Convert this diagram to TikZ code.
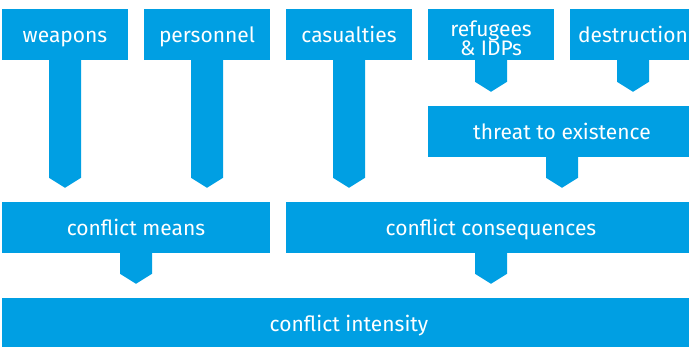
\documentclass[tikz,border=0pt]{standalone}
\usepackage{fontspec}
\setmainfont{Fira Sans}
\usetikzlibrary{calc}
\definecolor{fg}{HTML}{009FE3}
\tikzset{
  box/.style={fill=fg, text=white, inner sep=0pt, align=center, font=\fontsize{21}{18}\selectfont},
  oneline/.style={box, text height=16pt, text depth=0pt},
  topbox/.style={minimum width=126pt, minimum height=51pt},
}
\newcommand\flowarrow[2]{%
  \path let \p1=(#1.south), \p2=(#2.north) in
    [fill=fg] (\x1-16pt,\y1+0.5pt) -- (\x1-16pt,\y2+24pt) -- (\x1,\y2+14pt)
      -- (\x1+16pt,\y2+24pt) -- (\x1+16pt,\y1+0.5pt) -- cycle;}
\begin{document}
\begin{tikzpicture}[x=1pt,y=-1pt]
\useasboundingbox (0,0) rectangle (689,347);
\node[oneline, topbox] (w) at (65,34.5) {weapons};
\node[oneline, topbox] (p) at (207,34.5) {personnel};
\node[oneline, topbox] (c) at (349,34.5) {casualties};
\node[box, topbox] (r) at (491,34.5) {\raisebox{0pt}[\dimexpr\height+8pt\relax][0pt]{\shortstack{refugees\\[-3pt]\& IDPs}}};
\node[oneline, topbox] (d) at (633,34.5) {destruction};
\node[oneline, minimum width=268pt, minimum height=51pt] (t) at (562,131.5) {threat to existence};
\node[oneline, minimum width=268pt, minimum height=51pt] (m) at (136,227.5) {conflict means};
\node[oneline, minimum width=410pt, minimum height=51pt] (q) at (491,227.5) {conflict consequences};
\node[oneline, minimum width=694pt, minimum height=51pt] (i) at (349,323.5) {conflict intensity};
\flowarrow{w}{m}
\flowarrow{p}{m}
\flowarrow{c}{q}
\flowarrow{r}{t}
\flowarrow{d}{t}
\flowarrow{t}{q}
\flowarrow{m}{i}
\flowarrow{q}{i}
\end{tikzpicture}
\end{document}
